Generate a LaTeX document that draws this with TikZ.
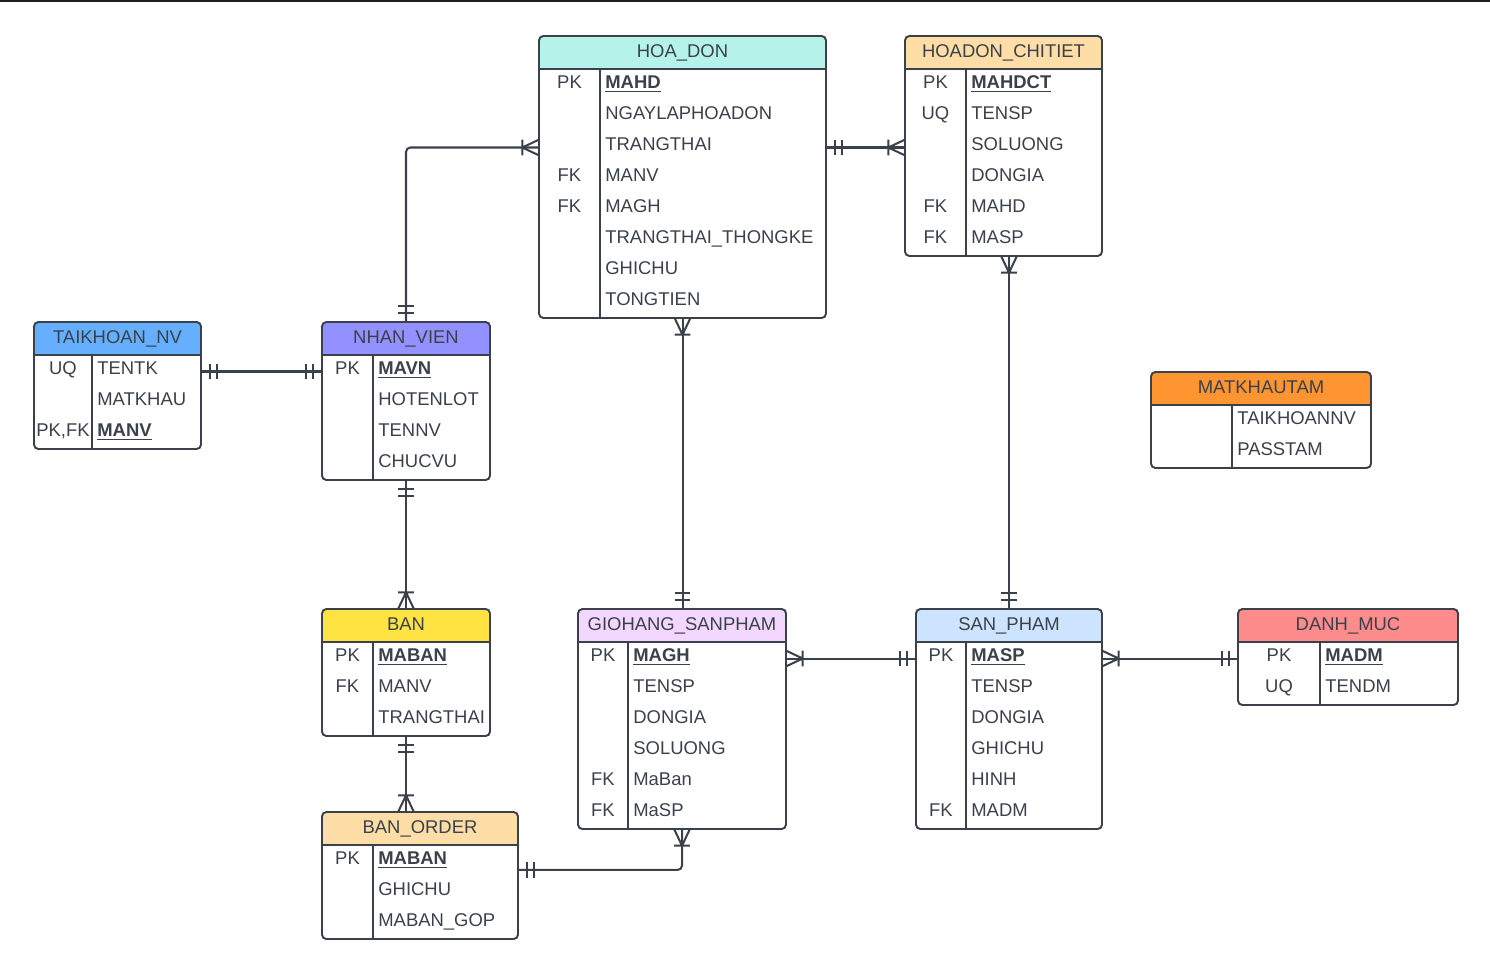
\documentclass[tikz,border=0pt]{standalone}
\usepackage{fontspec}
\setmainfont{Liberation Sans}
\usepackage{xcolor}
\usepackage{tikz}
\usetikzlibrary{decorations.markings}

\definecolor{ink}{RGB}{58,65,74}
\definecolor{tkblue}{RGB}{102,175,255}
\definecolor{nvpurple}{RGB}{147,145,255}
\definecolor{hdcyan}{RGB}{181,243,234}
\definecolor{peach}{RGB}{255,221,166}
\definecolor{mkorange}{RGB}{255,149,48}
\definecolor{banyellow}{RGB}{255,227,66}
\definecolor{lavender}{RGB}{243,215,255}
\definecolor{spblue}{RGB}{204,228,255}
\definecolor{salmon}{RGB}{255,140,140}

\newcommand{\pkf}[1]{\underline{\textbf{#1}}}

\tikzset{
  erdbox/.style={draw=ink, line width=1.1pt, rounded corners=2.5pt, inner sep=0pt, outer sep=0pt},
  erdline/.style={draw=ink, line width=1.1pt},
  erdtext/.style={text=ink, inner sep=0pt, font=\fontsize{10.5pt}{12pt}\selectfont},
  erdtitle/.style={erdtext, anchor=base},
  erdkey/.style={erdtext, anchor=base},
  erdfield/.style={erdtext, anchor=base west},
  conn/.style={draw=ink, line width=1.15pt},
  onestart/.style={postaction={decorate, decoration={markings,
      mark=at position 5.1pt with {\draw (0,-4.5pt) -- (0,4.5pt);},
      mark=at position 9pt with {\draw (0,-4.5pt) -- (0,4.5pt);}}}},
  oneend/.style={postaction={decorate, decoration={markings,
      mark=at position -9pt with {\draw (0,-4.5pt) -- (0,4.5pt);},
      mark=at position -5.1pt with {\draw (0,-4.5pt) -- (0,4.5pt);}}}},
  manystart/.style={postaction={decorate, decoration={markings,
      mark=at position 9.5pt with {\draw (0,-4.5pt) -- (0,4.5pt) (0,0) -- (-9.5pt,4.5pt) (0,0) -- (-9.5pt,-4.5pt);}}}},
  manyend/.style={postaction={decorate, decoration={markings,
      mark=at position -9.5pt with {\draw (0,-4.5pt) -- (0,4.5pt) (0,0) -- (9.5pt,4.5pt) (0,0) -- (9.5pt,-4.5pt);}}}}
}

% #1 name, #2 x, #3 y, #4 width, #5 key column, #6 colour, #7 title, #8 rows
\newcommand{\erdtable}[8]{%
  \begin{scope}
    \clip (#2,#3) rectangle (#2+#4,#3+33);
    \fill[#6, rounded corners=2.5pt] (#2,#3) rectangle (#2+#4,#3+60);
  \end{scope}
  \node[erdtitle] (#1-t) at (#2+#4/2,#3+21) {#7};
  \foreach \erdk/\erdf [count=\i] in {#8} {
    \coordinate (#1-r\i) at (#2,#3+49.5+31*\i-31);
    \node[erdkey] (#1-k\i) at (#2+#5/2,#3+52.5+31*\i-31) {\erdk};
    \node[erdfield] (#1-f\i) at (#2+#5+5,#3+52.5+31*\i-31) {\erdf};
    \xdef\erdn{\i}
  }
  \draw[erdline] (#2,#3+33) -- (#2+#4,#3+33);
  \draw[erdline] (#2+#5,#3+33) -- (#2+#5,#3+34+31*\erdn);
  \node[erdbox, anchor=north west, minimum width=#4*0.02cm,
        minimum height={(34+31*\erdn)*0.02cm}] (#1) at (#2,#3) {};
}

\begin{document}
\begin{tikzpicture}[x=0.02cm, y=-0.02cm]
\useasboundingbox (0,0) rectangle (1490,957);
\fill[black!88] (0,0) rectangle (1490,2);

\erdtable{tk}{34}{322}{167}{58}{tkblue}{TAIKHOAN\_NV}{UQ/TENTK, /MATKHAU, {PK,FK}/\pkf{MANV}}
\erdtable{nv}{322}{322}{168}{51}{nvpurple}{NHAN\_VIEN}{PK/\pkf{MAVN}, /HOTENLOT, /TENNV, /CHUCVU}
\erdtable{hd}{539}{36}{287}{61}{hdcyan}{HOA\_DON}{PK/\pkf{MAHD}, /NGAYLAPHOADON, /TRANGTHAI, FK/MANV, FK/MAGH, /TRANGTHAI\_THONGKE, /GHICHU, /TONGTIEN}
\erdtable{hc}{905}{36}{197}{61}{peach}{HOADON\_CHITIET}{PK/\pkf{MAHDCT}, UQ/TENSP, /SOLUONG, /DONGIA, FK/MAHD, FK/MASP}
\erdtable{mk}{1151}{372}{220}{81}{mkorange}{MATKHAUTAM}{/TAIKHOANNV, /PASSTAM}
\erdtable{ban}{322}{609}{168}{51}{banyellow}{BAN}{PK/\pkf{MABAN}, FK/MANV, /TRANGTHAI}
\erdtable{bo}{322}{812}{196}{51}{peach}{BAN\_ORDER}{PK/\pkf{MABAN}, /GHICHU, /MABAN\_GOP}
\erdtable{gh}{578}{609}{208}{50}{lavender}{GIOHANG\_SANPHAM}{PK/\pkf{MAGH}, /TENSP, /DONGIA, /SOLUONG, FK/MaBan, FK/MaSP}
\erdtable{sp}{916}{609}{186}{50}{spblue}{SAN\_PHAM}{PK/\pkf{MASP}, /TENSP, /DONGIA, /GHICHU, /HINH, FK/MADM}
\erdtable{dm}{1238}{609}{220}{82}{salmon}{DANH\_MUC}{PK/\pkf{MADM}, UQ/TENDM}

% relationships
\draw[conn, onestart, oneend] (tk-r1 -| tk.east) -- (nv-r1);
\draw[conn, rounded corners=2.5pt, onestart, manyend] (nv.north) |- (hd-r3);
\draw[conn, onestart, manyend] (hd-r3 -| hd.east) -- (hc-r3);
\draw[conn, manystart, oneend] (hc.south -| sp.north) -- (sp.north);
\draw[conn, manystart, oneend] (hd.south) -- (hd.south |- gh.north);
\draw[conn, onestart, manyend] (nv.south) -- (ban.north);
\draw[conn, onestart, manyend] (ban.south) -- (ban.south |- bo.north);
\draw[conn, manystart, oneend] (gh-r1 -| gh.east) -- (sp-r1);
\draw[conn, manystart, oneend] (sp-r1 -| sp.east) -- (dm-r1);
\draw[conn, rounded corners=2.5pt, onestart, manyend] ([yshift=-4.8pt]bo-r1 -| bo.east) -| (gh.south);

\end{tikzpicture}
\end{document}
